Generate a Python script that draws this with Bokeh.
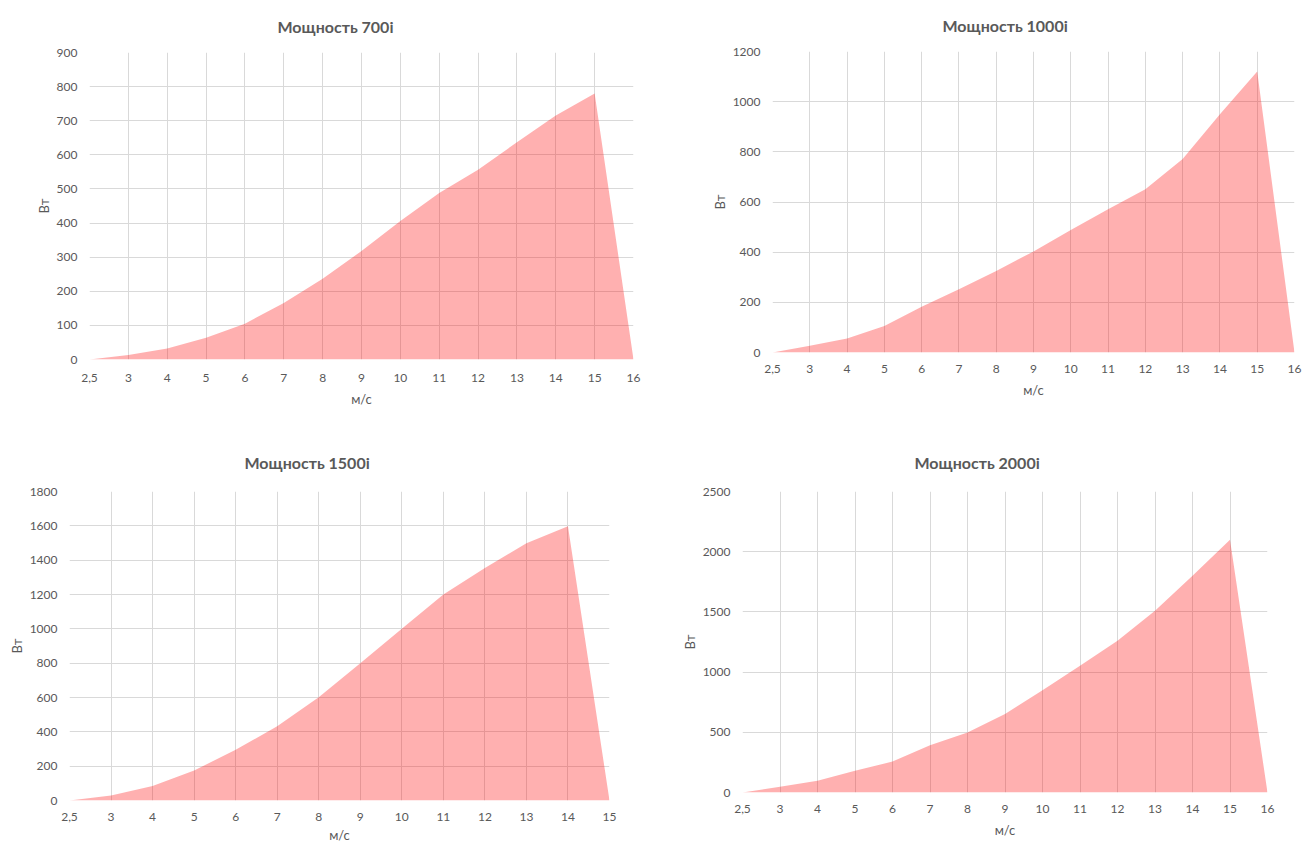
from bokeh.plotting import figure
from bokeh.layouts import column, row
from bokeh.models import FixedTicker, Range1d, Title
from bokeh.embed import file_html
from bokeh.resources import INLINE

# ---- data ----
speed_16 = ["2,5", "3", "4", "5", "6", "7", "8", "9", "10", "11", "12", "13", "14", "15", "16"]
speed_15 = ["2,5", "3", "4", "5", "6", "7", "8", "9", "10", "11", "12", "13", "14", "15"]

power_700 = [0, 13, 32, 64, 105, 166, 237, 318, 406, 488, 556, 637, 715, 780, 0]
power_1000 = [0, 27, 56, 106, 182, 252, 325, 403, 488, 571, 651, 771, 950, 1120, 0]
power_1500 = [0, 29, 85, 175, 295, 433, 602, 800, 1000, 1200, 1355, 1499, 1598, 0]
power_2000 = [0, 47, 97, 180, 257, 393, 498, 651, 850, 1052, 1260, 1509, 1800, 2099, 0]

titles = ["Мощность 700i", "Мощность 1000i", "Мощность 1500i", "Мощность 2000i"]
y_label = "Вт"
x_label = "м/с"

FONT = "Lato"
GREY = "#595959"
GRID = "#d9d9d9"


def make(title, cats, vals, ymax, ystep, W, H, L, R, T, B, t_off, t_stand, xl_stand, xa_stand):
    idx = list(range(len(cats)))
    p = figure(width=W, height=H, output_backend="svg", toolbar_location=None,
               x_range=Range1d(0, len(cats) - 1), y_range=Range1d(0, ymax),
               min_border_left=L, min_border_right=R, min_border_top=T, min_border_bottom=B)
    p.varea(x=idx, y1=0, y2=vals, fill_color="#ff0000", fill_alpha=0.31)

    p.add_layout(Title(text=title, align="left", offset=t_off, standoff=t_stand,
                       vertical_align="top", text_font=FONT, text_font_size="16px",
                       text_font_style="bold", text_color=GREY), "above")

    p.xaxis.ticker = FixedTicker(ticks=idx)
    p.xaxis.major_label_overrides = {i: c for i, c in enumerate(cats)}
    p.yaxis.ticker = FixedTicker(ticks=list(range(0, ymax + 1, ystep)))
    for ax in (p.xaxis, p.yaxis):
        ax.axis_line_color = None
        ax.major_tick_line_color = None
        ax.minor_tick_line_color = None
        ax.major_tick_out = 0
        ax.major_tick_in = 0
        ax.major_label_text_font = FONT
        ax.major_label_text_font_size = "12px"
        ax.major_label_text_color = GREY
        ax.axis_label_text_font = FONT
        ax.axis_label_text_font_size = "13px"
        ax.axis_label_text_font_style = "normal"
        ax.axis_label_text_color = GREY
    p.xaxis.major_label_standoff = xl_stand
    p.xaxis.axis_label = x_label
    p.xaxis.axis_label_standoff = xa_stand
    p.yaxis.major_label_standoff = 12
    p.yaxis.axis_label = y_label
    p.yaxis.axis_label_standoff = 2

    p.xgrid.grid_line_color = GRID
    p.ygrid.grid_line_color = GRID
    p.outline_line_color = None
    p.background_fill_color = "white"
    p.border_fill_color = "white"
    return p


p1 = make(titles[0], speed_16, power_700, 900, 100, 648, 430, 89, 15, 52, 71, 188, 30, 14, 6)
p2 = make(titles[1], speed_16, power_1000, 1200, 200, 656, 430, 124, 10, 51, 78, 170, 29, 12, 6)
p3 = make(titles[2], speed_15, power_1500, 1800, 200, 648, 415, 69, 39, 61, 45, 175, 36, 12, 3)
p4 = make(titles[3], speed_16, power_2000, 2500, 500, 656, 415, 94, 37, 61, 53, 172, 36, 12, 6)

layout = column(row(column(p1), column(p2)), row(column(p3), column(p4)))
open("out.html", "w").write(file_html(layout, INLINE))
